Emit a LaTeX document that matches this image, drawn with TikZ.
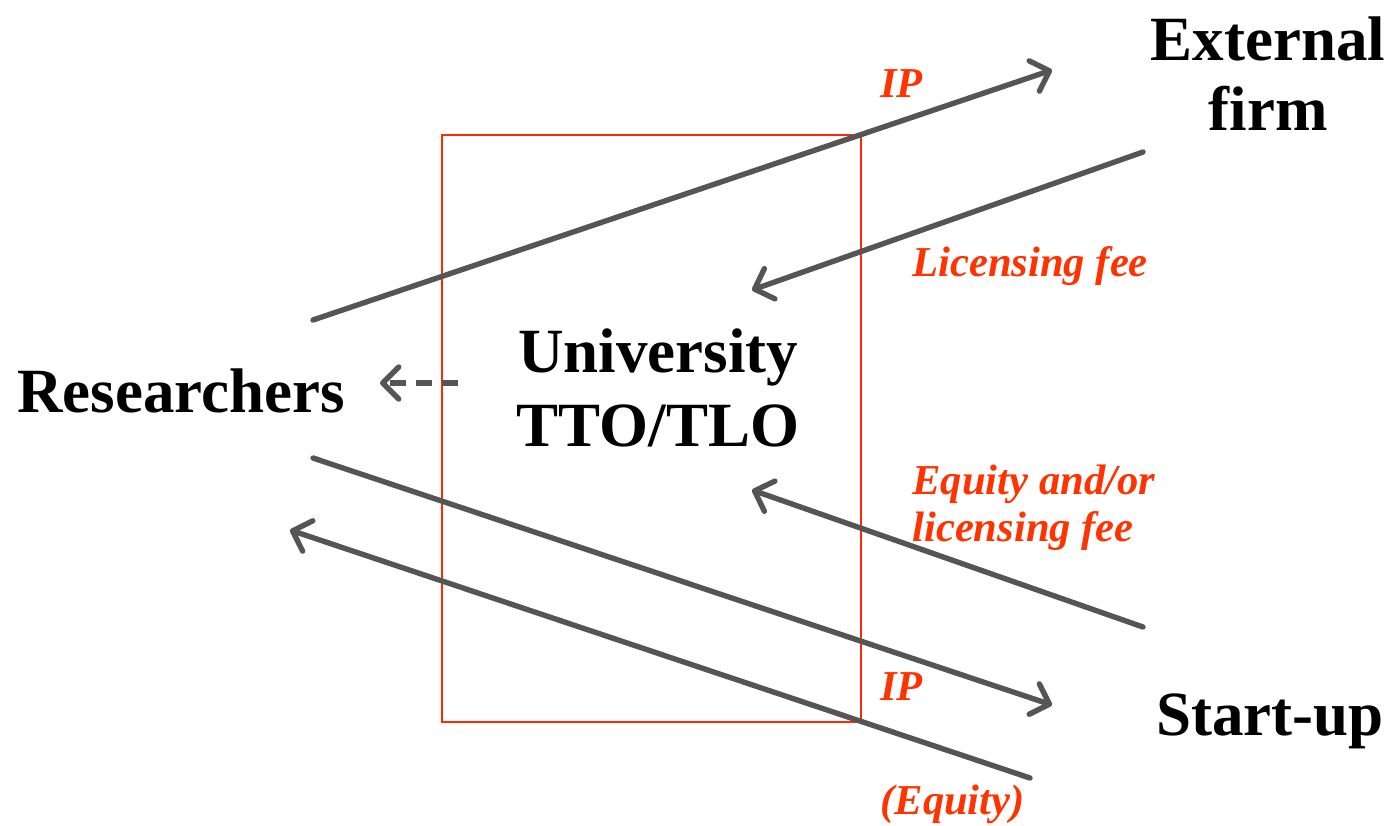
\documentclass[tikz,border=0pt]{standalone}
\usepackage{fontspec}
\setmainfont{Liberation Serif}
\usetikzlibrary{arrows.meta}
\definecolor{flowgray}{HTML}{555555}
\definecolor{labelred}{HTML}{FF3300}
\definecolor{boxred}{HTML}{FF2A00}
\tikzset{
  party/.style={font=\fontsize{31.5}{36}\selectfont\bfseries, inner sep=0pt, align=center},
  flowlabel/.style={font=\fontsize{21.3}{23.5}\selectfont\bfseries\itshape, text=labelred, inner sep=0pt, align=left},
  flow/.style={draw=flowgray, line width=2.7pt, line cap=round,
    -{Straight Barb[length=8pt, width=16pt, line cap=round, line join=round]}},
  backflow/.style={flow, dash pattern=on 8pt off 5pt, line cap=butt},
}
\begin{document}
\begin{tikzpicture}[x=0.5pt, y=-0.5pt]
  \useasboundingbox (0,0) rectangle (1392,825);

  % parties (base anchor sits on the last line)
  \node[party, anchor=base, font=\fontsize{31.5}{35}\selectfont\bfseries] (ext) at (1268,130) {External\\firm};
  \node[party, anchor=base] (res) at (181,412) {Researchers};
  \node[party, anchor=base, font=\fontsize{31.5}{37}\selectfont\bfseries] (tto) at (658,446) {University\\TTO/TLO};
  \node[party, anchor=base] (start) at (1270,735) {Start-up};

  % technology transfer office boundary
  \draw[boxred, line width=0.8pt] (442,135) rectangle (861,722);

  % end points of the flows
  \coordinate (ipA) at (313,320);
  \coordinate (ipB) at (1052,70);
  \coordinate (feeA) at (1143,152);
  \coordinate (feeB) at (752,290);
  \coordinate (dashA) at (458,383);
  \coordinate (dashB) at (380,383);
  \coordinate (ipC) at (313,458);
  \coordinate (ipD) at (1052,705);
  \coordinate (eqA) at (1143,627);
  \coordinate (eqB) at (752,490);
  \coordinate (shareA) at (1030,778);
  \coordinate (shareB) at (290,530);

  \draw[flow] (ipA) -- (ipB);
  \draw[flow] (feeA) -- (feeB);
  \draw[backflow] (dashA) -- (dashB);
  \draw[flow] (ipC) -- (ipD);
  \draw[flow] (eqA) -- (eqB);
  \draw[flow] (shareA) -- (shareB);

  % labels on the flows
  \node[flowlabel, anchor=base west] (l1) at (880,97) {IP};
  \node[flowlabel, anchor=base west] (l2) at (912,276) {Licensing fee};
  \node[flowlabel, anchor=base west] (l3) at (912,541) {Equity and/or\\licensing fee};
  \node[flowlabel, anchor=base west] (l4) at (880,700) {IP};
  \node[flowlabel, anchor=base west] (l5) at (880,814) {(Equity)};
\end{tikzpicture}
\end{document}
